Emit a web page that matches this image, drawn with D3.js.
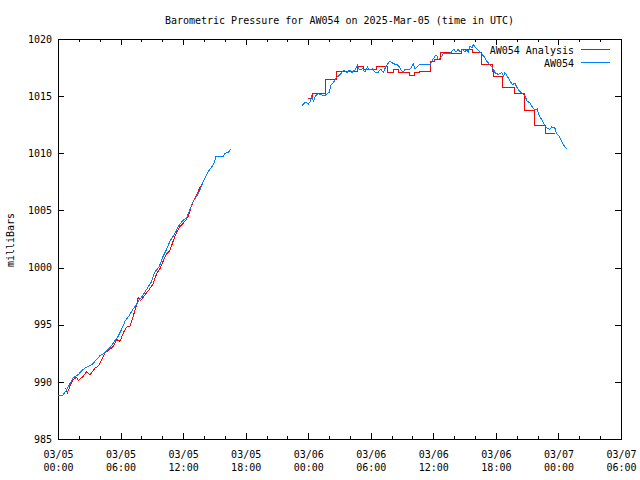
<!DOCTYPE html>
<html>
<head>
<meta charset="utf-8">
<script src="https://cdn.jsdelivr.net/npm/d3@7"></script>
<style>
  html, body { margin: 0; padding: 0; background: #fff; }
  svg { display: block; }
  text { font-family: "DejaVu Sans Mono", "Liberation Mono", monospace; font-size: 10px; fill: #000; }
</style>
</head>
<body>
<svg id="chart" width="640" height="480"></svg>
<script>
// ---- data (hours since 2025-03-05 00:00 UTC, millibars) ----
const titleText = "Barometric Pressure for AW054 on 2025-Mar-05 (time in UTC)";
const yLabelText = "milliBars";
const seriesNames = ["AW054 Analysis", "AW054"];
const seriesColors = ["#ff0000", "#0080ff"];

const xDomain = [0, 54];
const xMajorTicks = [0, 6, 12, 18, 24, 30, 36, 42, 48, 54];
const xTickDates = ["03/05", "03/05", "03/05", "03/05", "03/06", "03/06", "03/06", "03/06", "03/07", "03/07"];
const xTickTimes = ["00:00", "06:00", "12:00", "18:00", "00:00", "06:00", "12:00", "18:00", "00:00", "06:00"];
const yDomain = [985, 1020];
const yTicks = [985, 990, 995, 1000, 1005, 1010, 1015, 1020];

const obsEarly = [
  [0,988.8],[0.45,988.8],[0.6,989.0],[0.83,989.3],[1.15,989.85],[1.47,990.36],[1.95,990.65],
  [2.43,991.1],[2.75,991.3],[3.23,991.5],[3.71,991.95],[4.03,992.3],[4.5,992.55],[5.0,993.0],
  [5.3,993.4],[5.78,994.0],[6.1,994.6],[6.43,995.3],[6.9,995.9],[7.22,996.4],[7.55,996.8],
  [7.8,997.2],[8.1,997.5],[8.5,998.1],[8.99,998.8],[9.24,999.55],[9.72,1000.1],[10.04,1000.9],
  [10.42,1001.6],[10.74,1002.3],[11.22,1003.0],[11.54,1003.6],[11.96,1004.1],[12.34,1004.35],
  [12.66,1005.1],[12.92,1005.7],[13.3,1006.25],[13.62,1006.8],[13.88,1007.4],[14.1,1007.85],
  [14.42,1008.4],[14.9,1009.0],[15.15,1009.7],[15.86,1009.75],[16.0,1010.0],[16.33,1010.05],
  [16.56,1010.4]
];
const obsLate = [
  [23.43,1014.2],[23.6,1014.35],[23.79,1014.5],[24.0,1014.3],[24.15,1014.45],[24.33,1015.0],
  [24.5,1014.55],[24.71,1015.05],[24.97,1015.2],[25.35,1015.1],[25.67,1015.1],[26.02,1015.35],
  [26.18,1015.95],[26.4,1016.15],[26.66,1016.6],[26.88,1016.75],[27.21,1017.05],[27.43,1017.3],
  [27.69,1017.05],[28.0,1017.3],[28.16,1017.05],[28.49,1017.3],[28.71,1017.7],[28.9,1017.3],
  [29.22,1017.4],[29.45,1017.1],[29.67,1017.55],[29.86,1017.3],[30.18,1017.4],[30.4,1017.1],
  [30.72,1017.1],[30.95,1017.35],[31.2,1017.1],[31.46,1017.6],[31.68,1017.9],[31.84,1018.05],
  [32.16,1017.85],[32.64,1017.7],[32.87,1017.35],[33.12,1017.05],[33.28,1017.35],[33.76,1017.35],
  [34.08,1017.8],[34.24,1017.35],[34.72,1017.8],[35.36,1017.8],[35.74,1017.8],[35.84,1018.05],
  [36.16,1018.5],[36.32,1018.55],[36.48,1018.2],[36.8,1018.5],[36.96,1018.7],[37.6,1018.7],
  [37.76,1018.9],[37.98,1019.1],[38.17,1018.85],[38.4,1019.1],[38.56,1018.85],[38.81,1019.1],
  [39.04,1018.85],[39.2,1019.1],[39.36,1018.85],[39.52,1019.4],[39.7,1019.2],[39.84,1019.5],
  [40.1,1019.2],[40.32,1019.0],[40.65,1018.7],[40.87,1018.45],[41.13,1018.05],[41.38,1017.8],
  [41.6,1017.6],[41.76,1017.35],[41.92,1017.05],[42.23,1016.9],[42.56,1017.05],[42.72,1016.75],
  [42.87,1017.05],[43.19,1016.6],[43.35,1016.3],[43.6,1016.0],[43.83,1016.15],[43.99,1015.8],
  [44.24,1015.45],[44.47,1015.3],[44.79,1015.0],[45.01,1014.55],[45.27,1014.4],[45.52,1014.0],
  [45.75,1013.8],[45.97,1013.9],[46.07,1013.5],[46.23,1013.2],[46.49,1012.8],[46.7,1012.4],
  [46.93,1012.2],[47.19,1012.1],[47.35,1012.3],[47.67,1012.2],[47.83,1011.7],[48.08,1011.5],
  [48.24,1011.2],[48.41,1010.85],[48.63,1010.55],[48.79,1010.4]
];
const anaEarly = [
  [0.67,989.4],[0.75,989.4],[0.9,989.05],[1.15,989.6],[1.47,990.2],[1.79,990.4],[1.95,990.1],
  [2.43,990.5],[2.75,990.9],[3.07,990.6],[3.55,991.2],[3.87,991.4],[4.19,991.9],[4.5,992.55],
  [4.9,992.8],[5.3,993.1],[5.63,993.7],[5.95,993.55],[6.27,994.3],[6.59,994.8],[6.9,994.85],
  [7.22,995.75],[7.55,996.8],[7.7,997.4],[7.93,997.1],[8.5,997.8],[8.76,998.1],[9.14,998.6],
  [9.47,999.5],[9.78,999.9],[10.1,1000.6],[10.42,1001.2],[10.74,1001.5],[11.06,1002.35],
  [11.38,1003.1],[11.7,1003.6],[12.18,1004.05],[12.5,1004.5],[12.73,1005.2],[12.98,1005.8],
  [13.3,1006.4],[13.62,1007.0],[13.88,1007.35]
];
const anaLate = [
  [23.95,1014.8],[24.4,1015.2],[25.67,1016.45],[26.7,1017.2],[28.7,1017.57],[29.28,1017.3],
  [30.57,1017.62],[31.62,1017.05],[32.16,1017.3],[32.66,1017.05],[33.72,1016.8],[34.24,1017.05],
  [34.66,1017.2],[35.74,1018.05],[36.07,1018.2],[36.72,1018.85],[37.74,1018.73],[38.72,1019.12],
  [39.78,1018.85],[40.66,1017.8],[41.63,1017.2],[41.78,1016.75],[42.68,1015.8],[43.74,1015.2],
  [44.7,1013.72],[45.7,1012.42],[46.72,1011.7],[47.7,1011.7]
];

// ---- layout ----
const L = 58, R = 621, T = 39, B = 439;
const svg = d3.select("#chart");

const x = d3.scaleLinear().domain(xDomain).range([L, R]);
const y = d3.scaleLinear().domain(yDomain).range([B, T]);

// title
svg.append("text").attr("x", (L + R) / 2).attr("y", 24)
  .attr("text-anchor", "middle").text(titleText);

// y label
svg.append("text").attr("transform", "translate(14,240) rotate(-90)")
  .attr("text-anchor", "middle").text(yLabelText);

// frame
svg.append("rect").attr("x", L + 0.5).attr("y", T + 0.5)
  .attr("width", R - L).attr("height", B - T)
  .attr("fill", "none").attr("stroke", "#000").attr("stroke-width", 1)
  .attr("shape-rendering", "crispEdges");

const minorHours = d3.range(0, 55, 2).filter(h => h % 6 !== 0);

function styleAxis(g) {
  g.select(".domain").remove();
  g.selectAll("line").attr("stroke", "#000").attr("shape-rendering", "crispEdges");
}

// bottom axis major (with labels)
const gBottom = svg.append("g").attr("transform", `translate(0,${B})`)
  .call(d3.axisBottom(x).tickValues(xMajorTicks).tickSizeInner(-6).tickSizeOuter(0).tickPadding(10)
    .tickFormat((d, i) => xTickDates[i]));
styleAxis(gBottom);
gBottom.selectAll(".tick text").attr("font-size", null).attr("font-family", null).attr("y", 19).attr("dy", 0)
  .each(function(d, i) {
    d3.select(this).append("tspan").attr("x", 0).attr("dy", 13).text(xTickTimes[i]);
  });
gBottom.attr("font-size", null).attr("font-family", null);

const gBottomMinor = svg.append("g").attr("transform", `translate(0,${B})`)
  .call(d3.axisBottom(x).tickValues(minorHours).tickSizeInner(-3).tickSizeOuter(0).tickFormat(""));
styleAxis(gBottomMinor);

// top axis mirrors
const gTop = svg.append("g").attr("transform", `translate(0,${T})`)
  .call(d3.axisTop(x).tickValues(xMajorTicks).tickSizeInner(-6).tickSizeOuter(0).tickFormat(""));
styleAxis(gTop);
const gTopMinor = svg.append("g").attr("transform", `translate(0,${T})`)
  .call(d3.axisTop(x).tickValues(minorHours).tickSizeInner(-3).tickSizeOuter(0).tickFormat(""));
styleAxis(gTopMinor);

// left axis
const gLeft = svg.append("g").attr("transform", `translate(${L},0)`)
  .call(d3.axisLeft(y).tickValues(yTicks).tickSizeInner(-6).tickSizeOuter(0).tickPadding(6)
    .tickFormat(d3.format("d")));
styleAxis(gLeft);
gLeft.attr("font-size", null).attr("font-family", null);
gLeft.selectAll(".tick text").attr("x", -6);

// right axis mirror
const gRight = svg.append("g").attr("transform", `translate(${R},0)`)
  .call(d3.axisRight(y).tickValues(yTicks).tickSizeInner(-6).tickSizeOuter(0).tickFormat(""));
styleAxis(gRight);

// series
const lineLinear = d3.line().x(d => x(d[0])).y(d => y(d[1]));
const lineStep = d3.line().x(d => x(d[0])).y(d => y(d[1])).curve(d3.curveStepAfter);

const gData = svg.append("g").attr("fill", "none").attr("stroke-width", 1)
  .attr("shape-rendering", "crispEdges");
gData.append("path").datum(anaEarly).attr("d", lineLinear).attr("stroke", seriesColors[0]);
gData.append("path").datum(anaLate).attr("d", lineStep).attr("stroke", seriesColors[0]);
gData.append("path").datum(obsEarly).attr("d", lineLinear).attr("stroke", seriesColors[1]);
gData.append("path").datum(obsLate).attr("d", lineLinear).attr("stroke", seriesColors[1]);

// legend
const legY = [50, 63];
seriesNames.forEach((name, i) => {
  svg.append("text").attr("x", 574).attr("y", legY[i]).attr("dy", "0.35em")
    .attr("text-anchor", "end").text(name);
  svg.append("line").attr("x1", 581).attr("x2", 610)
    .attr("y1", legY[i] - 0.5).attr("y2", legY[i] - 0.5)
    .attr("stroke", seriesColors[i]).attr("shape-rendering", "crispEdges");
});
</script>
</body>
</html>
